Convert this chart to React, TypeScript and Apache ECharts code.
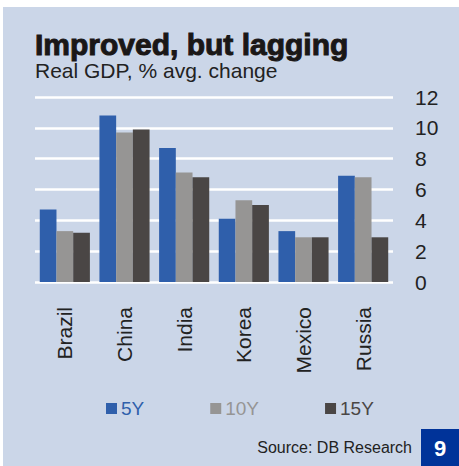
import React, { useEffect, useRef } from "react";
import * as echarts from "echarts";

const categories = ["Brazil", "China", "India", "Korea", "Mexico", "Russia"];
const seriesNames = ["5Y", "10Y", "15Y"];
const values5Y = [4.7, 10.8, 8.7, 4.1, 3.3, 6.9];
const values10Y = [3.3, 9.7, 7.1, 5.3, 2.9, 6.8];
const values15Y = [3.2, 9.9, 6.8, 5.0, 2.9, 2.9];
const seriesColors = ["#2f5fab", "#969594", "#4a4645"];
const yTicks = { min: 0, max: 12, interval: 2 };

const FONT = "'Liberation Sans', Arial, sans-serif";

export default function App() {
  const ref = useRef<HTMLDivElement>(null);
  useEffect(() => {
    if (!ref.current) return;
    const chart = echarts.init(ref.current, null, { renderer: "svg" });
    const allValues = [values5Y, values10Y, values15Y];
    chart.setOption({
      animation: false,
      backgroundColor: "#ffffff",
      textStyle: { fontFamily: FONT },
      grid: { left: 35, right: 66, top: 97, bottom: 184, containLabel: false },
      xAxis: {
        type: "category",
        data: categories,
        axisLine: { show: false },
        axisTick: { show: false },
        axisLabel: { rotate: 90, fontSize: 21, color: "#222", margin: 25, fontFamily: FONT },
      },
      yAxis: {
        type: "value",
        position: "right",
        min: yTicks.min,
        max: yTicks.max,
        interval: yTicks.interval,
        axisLine: { show: false },
        axisTick: { show: false },
        axisLabel: { fontSize: 21, color: "#222", margin: 22, fontFamily: FONT },
        splitLine: { lineStyle: { color: "#ffffff", width: 2.5 } },
      },
      legend: {
        left: 101,
        top: 394,
        itemWidth: 11,
        itemHeight: 11,
        itemGap: 66,
        icon: "rect",
        data: seriesNames.map((n, i) => ({
          name: n,
          textStyle: { color: seriesColors[i] },
        })),
        textStyle: { fontSize: 19, fontFamily: FONT, padding: [0, 0, 0, -1] },
      },
      series: seriesNames.map((n, i) => ({
        name: n,
        type: "bar",
        data: allValues[i],
        barGap: "0%",
        barCategoryGap: "16%",
        itemStyle: { color: seriesColors[i] },
      })),
      graphic: [
        {
          type: "rect",
          z: -10,
          silent: true,
          shape: { x: 3, y: 7, width: 456, height: 459 },
          style: { fill: "#cbd6e8" },
        },
        {
          type: "text",
          x: 35,
          y: 44,
          style: {
            text: "Improved, but lagging",
            font: "bold 30px " + FONT,
            fill: "#1a1717",
            stroke: "#1a1717",
            lineWidth: 1,
            verticalAlign: "middle",
          },
        },
        {
          type: "text",
          x: 35,
          y: 70,
          style: {
            text: "Real GDP, % avg. change",
            font: "21px " + FONT,
            fill: "#222",
            verticalAlign: "middle",
          },
        },
        {
          type: "text",
          x: 412,
          y: 447,
          style: {
            text: "Source: DB Research",
            font: "16px " + FONT,
            fill: "#222",
            align: "right",
            verticalAlign: "middle",
          },
        },
        {
          type: "rect",
          shape: { x: 421, y: 429, width: 38, height: 37 },
          style: { fill: "#003399" },
        },
        {
          type: "text",
          x: 440,
          y: 448,
          style: {
            text: "9",
            font: "bold 22px " + FONT,
            fill: "#ffffff",
            align: "center",
            verticalAlign: "middle",
          },
        },
      ],
    });
    return () => chart.dispose();
  }, []);
  return (
    <div
      ref={ref}
      style={{ position: "fixed", left: 0, top: 0, width: 459, height: 466 }}
    />
  );
}
